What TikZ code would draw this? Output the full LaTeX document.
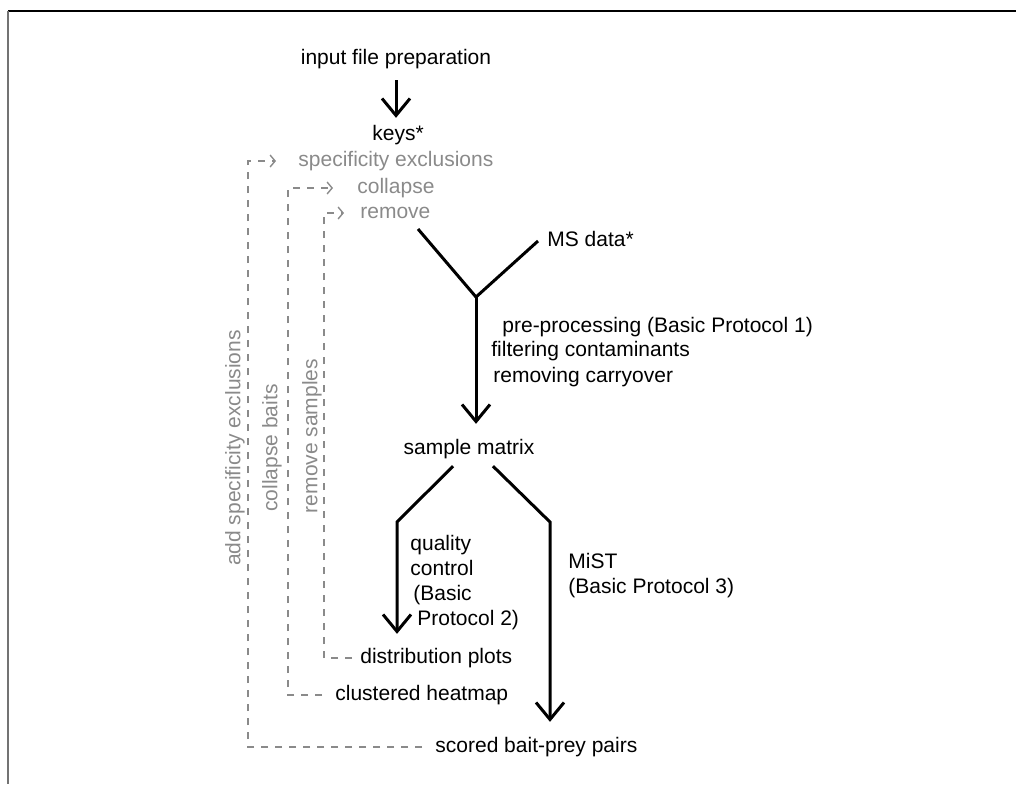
\documentclass[tikz,border=0pt]{standalone}
\usepackage{fontspec}
\setmainfont{Liberation Sans}
\usetikzlibrary{arrows.meta,positioning,calc}
\definecolor{fbgray}{RGB}{138,138,138}
\definecolor{framegray}{RGB}{115,115,115}
\tikzset{
  lbl/.style={inner sep=0pt, font=\fontsize{10.5}{12.5}\selectfont},
  fblbl/.style={lbl, text=fbgray},
  flow/.style={line width=1.5pt, black, line join=miter},
  flowarr/.style={flow, -{Straight Barb[length=8.5pt,width=14pt]}},
  fb/.style={fbgray, line width=0.7pt, dash pattern=on 3.5pt off 3.5pt},
  fbarr/.style={fb, -{Straight Barb[length=2.5pt,width=6pt]}}
}
\begin{document}
\begin{tikzpicture}[x=0.5pt, y=-0.5pt]
  \useasboundingbox (0,0) rectangle (1016,784);
  % frame
  \draw[line width=1pt] (8,11) -- (1016,11);
  \draw[framegray, line width=1pt] (8,11) -- (8,784);

  % main flow
  \node[lbl] (prep) at (396,59) {input file preparation};
  \node[lbl] (keys) at (398,135) {keys*};
  \node[fblbl, anchor=west] (spec) at (298,161) {specificity exclusions};
  \node[fblbl, anchor=west] (coll) at (357,188) {collapse};
  \node[fblbl, anchor=west] (rem) at (360,213) {remove};
  \node[lbl, anchor=west] (ms) at (547,239) {MS data*};
  \node[lbl, anchor=west] (pre) at (502,327) {pre-processing (Basic Protocol 1)};
  \node[lbl, anchor=west] (filt) at (491,351) {filtering contaminants};
  \node[lbl, anchor=west] (carry) at (493,377) {removing carryover};
  \node[lbl] (smat) at (469,449) {sample matrix};
  \node[lbl, anchor=north west, align=left] (qc) at (410,535)
    {quality\\control\\\hspace*{1.5pt}(Basic\\\hspace*{3.5pt}Protocol 2)};
  \node[lbl, anchor=north west, align=left] (mist) at (568,553) {MiST\\(Basic Protocol 3)};
  \node[lbl, anchor=west] (dist) at (360,658) {distribution plots};
  \node[lbl, anchor=west] (heat) at (335,695) {clustered heatmap};
  \node[lbl, anchor=west] (pairs) at (435,747) {scored bait-prey pairs};

  % feedback labels
  \node[fblbl, rotate=90] (addspec) at (235,448) {add specificity exclusions};
  \node[fblbl, rotate=90] (collb) at (272,448) {collapse baits};
  \node[fblbl, rotate=90] (remsam) at (312,436) {remove samples};

  % arrows
  \draw[flowarr] ($(prep.south)+(0,11)$) -- ($(prep.south |- keys.north)+(0,-7)$);
  \coordinate (yl) at (418,229);
  \coordinate (yr) at (538,241);
  \coordinate (yj) at (476,297);
  \draw[flow] (yl) -- (yj) -- (yr);
  \draw[flowarr] (yj) -- ($(yj |- smat.north)+(0,-15)$);
  \coordinate (ql) at (397,522);
  \coordinate (qr) at (550,522);
  \draw[flowarr] ($(smat.south)+(-16,7)$) -- (ql) -- ($(ql |- dist.north)+(0,-14)$);
  \draw[flowarr] ($(smat.south)+(24,7)$) -- (qr) -- ($(qr |- pairs.north)+(0,-15)$);

  % feedback loops
  \draw[fbarr] ($(pairs.west)+(-13,0)$) -| ($(spec.west)+(-50,0)$) -- ($(spec.west)+(-22,0)$);
  \draw[fbarr] ($(heat.west)+(-13,0)$) -| ($(coll.west)+(-69,0)$) -- ($(coll.west)+(-24,0)$);
  \draw[fbarr] ($(dist.west)+(-8,0)$) -| ($(rem.west)+(-36,0)$) -- ($(rem.west)+(-16,0)$);
\end{tikzpicture}
\end{document}
